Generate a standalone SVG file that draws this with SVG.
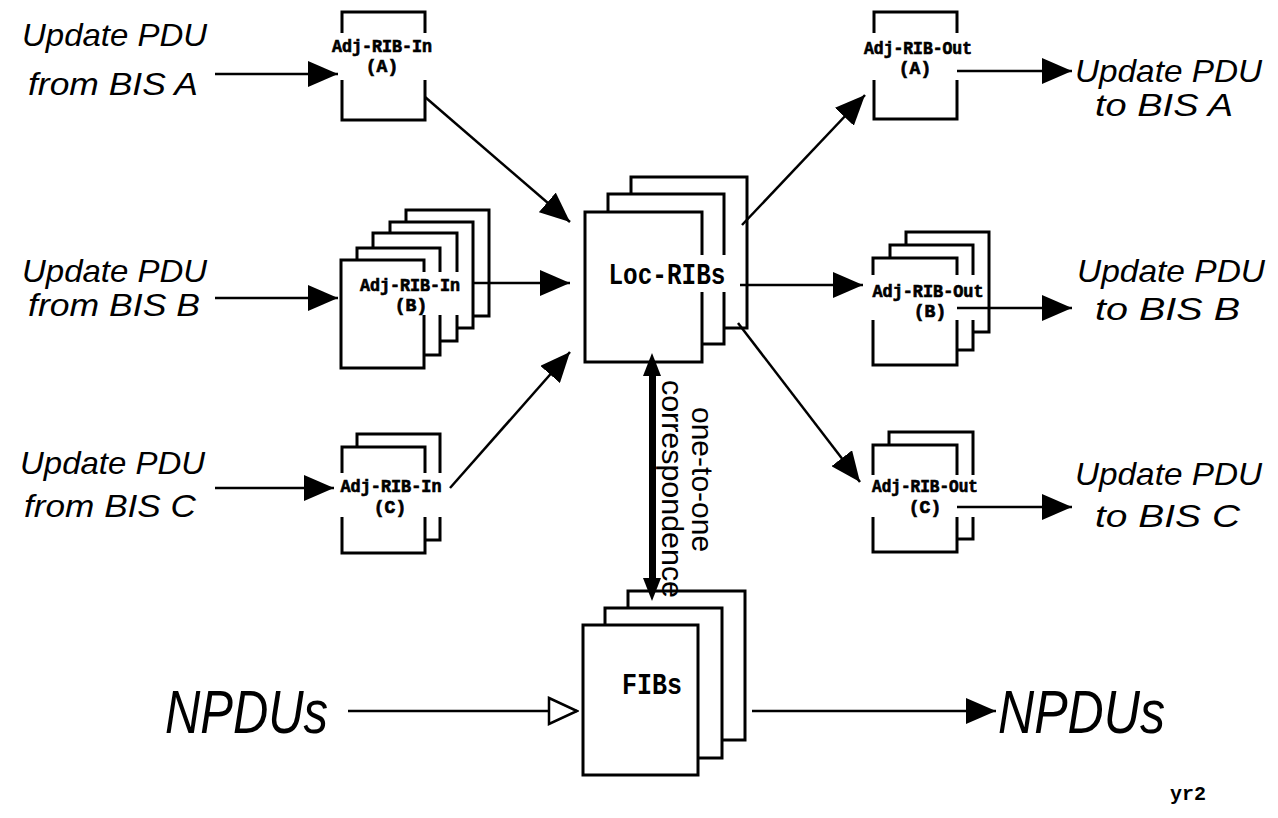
<svg xmlns="http://www.w3.org/2000/svg" width="1278" height="818" viewBox="0 0 1278 818">
<style>
.bx{fill:#fff;stroke:#000;stroke-width:3}
.wh{fill:#fff;stroke:none}
.cn{fill:none;stroke:#000;stroke-width:2.5}
.lbl{font-family:"Liberation Sans",Arial,sans-serif;font-style:italic;font-size:32px;fill:#000}
.big{font-family:"Liberation Sans",Arial,sans-serif;font-style:italic;font-size:62px;fill:#000}
.sm{font-family:"Liberation Mono","Courier New",monospace;font-weight:bold;font-size:18px;text-anchor:middle;fill:#000;stroke:#000;stroke-width:0.7}
.mid{font-family:"Liberation Mono","Courier New",monospace;font-weight:bold;font-size:30px;text-anchor:middle;fill:#000}
.rot{font-family:"Liberation Sans",Arial,sans-serif;font-size:30px;fill:#000}
</style>
<defs>
<marker id="ah" markerUnits="userSpaceOnUse" markerWidth="30" markerHeight="26" refX="30" refY="13" orient="auto"><path d="M0,0 L30,13 L0,26 z" fill="#000"/></marker>
<marker id="oh" markerUnits="userSpaceOnUse" markerWidth="32" markerHeight="30" refX="30" refY="15" orient="auto"><path d="M2,2 L30,15 L2,28 z" fill="#fff" stroke="#000" stroke-width="2.5"/></marker>
</defs>
<rect width="1278" height="818" fill="#fff"/>

<g id="in-a">
<rect class="bx" x="342" y="12" width="83" height="108"/>
<rect class="wh" x="333" y="33" width="100" height="47"/>
<text class="sm" x="382" y="52" textLength="100" lengthAdjust="spacingAndGlyphs">Adj-RIB-In</text>
<text class="sm" x="382" y="72">(A)</text>
</g>

<g id="in-b">
<rect class="bx" x="406" y="210" width="83" height="106"/>
<rect class="bx" x="390" y="222" width="83" height="106"/>
<rect class="bx" x="373" y="233" width="84" height="108"/>
<rect class="bx" x="357" y="248" width="83" height="107"/>
<rect class="bx" x="341" y="260" width="83" height="108"/>
<rect class="wh" x="358" y="272" width="105" height="43"/>
<text class="sm" x="410" y="291" textLength="100" lengthAdjust="spacingAndGlyphs">Adj-RIB-In</text>
<text class="sm" x="411" y="311">(B)</text>
</g>

<g id="in-c">
<rect class="bx" x="357" y="434" width="83" height="106"/>
<rect class="bx" x="342" y="447" width="83" height="106"/>
<rect class="wh" x="338" y="473" width="106" height="44"/>
<text class="sm" x="391" y="492" textLength="101" lengthAdjust="spacingAndGlyphs">Adj-RIB-In</text>
<text class="sm" x="390" y="513">(C)</text>
</g>

<g id="loc-ribs">
<rect class="bx" x="631" y="177" width="116" height="151"/>
<rect class="bx" x="608" y="194" width="116" height="150"/>
<rect class="bx" x="585" y="212" width="117" height="150"/>
<rect class="wh" x="606" y="255" width="122" height="37"/>
<text class="mid" x="667" y="284" textLength="117" lengthAdjust="spacingAndGlyphs">Loc-RIBs</text>
</g>

<g id="out-a">
<rect class="bx" x="874" y="12" width="83" height="107"/>
<rect class="wh" x="862" y="33" width="113" height="47"/>
<text class="sm" x="918" y="54" textLength="108" lengthAdjust="spacingAndGlyphs">Adj-RIB-Out</text>
<text class="sm" x="915" y="74">(A)</text>
</g>

<g id="out-b">
<rect class="bx" x="906" y="232" width="83" height="100"/>
<rect class="bx" x="890" y="245" width="83" height="105"/>
<rect class="bx" x="873" y="258" width="84" height="107"/>
<rect class="wh" x="870" y="275" width="116" height="45"/>
<text class="sm" x="928" y="297" textLength="111" lengthAdjust="spacingAndGlyphs">Adj-RIB-Out</text>
<text class="sm" x="930" y="317">(B)</text>
</g>

<g id="out-c">
<rect class="bx" x="889" y="432" width="84" height="107"/>
<rect class="bx" x="873" y="445" width="84" height="107"/>
<rect class="wh" x="870" y="475" width="110" height="42"/>
<text class="sm" x="925" y="492" textLength="106" lengthAdjust="spacingAndGlyphs">Adj-RIB-Out</text>
<text class="sm" x="925" y="513">(C)</text>
</g>

<g id="fibs">
<rect class="bx" x="628" y="591" width="117" height="149"/>
<rect class="bx" x="605" y="608" width="117" height="150"/>
<rect class="bx" x="583" y="625" width="115" height="150"/>
<text class="mid" x="652" y="694" textLength="60" lengthAdjust="spacingAndGlyphs">FIBs</text>
</g>

<g id="labels-left">
<text class="lbl" x="22" y="46" textLength="185" lengthAdjust="spacingAndGlyphs">Update PDU</text>
<text class="lbl" x="28" y="95" textLength="170" lengthAdjust="spacingAndGlyphs">from BIS A</text>
<text class="lbl" x="22" y="282" textLength="185" lengthAdjust="spacingAndGlyphs">Update PDU</text>
<text class="lbl" x="28" y="316" textLength="172" lengthAdjust="spacingAndGlyphs">from BIS B</text>
<text class="lbl" x="20" y="474" textLength="185" lengthAdjust="spacingAndGlyphs">Update PDU</text>
<text class="lbl" x="24" y="517" textLength="172" lengthAdjust="spacingAndGlyphs">from BIS C</text>
</g>

<g id="labels-right">
<text class="lbl" x="1075" y="82" textLength="187" lengthAdjust="spacingAndGlyphs">Update PDU</text>
<text class="lbl" x="1095" y="116" textLength="138" lengthAdjust="spacingAndGlyphs">to BIS A</text>
<text class="lbl" x="1077" y="282" textLength="188" lengthAdjust="spacingAndGlyphs">Update PDU</text>
<text class="lbl" x="1095" y="320" textLength="145" lengthAdjust="spacingAndGlyphs">to BIS B</text>
<text class="lbl" x="1075" y="485" textLength="187" lengthAdjust="spacingAndGlyphs">Update PDU</text>
<text class="lbl" x="1095" y="527" textLength="145" lengthAdjust="spacingAndGlyphs">to BIS C</text>
</g>

<g id="npdus">
<text class="big" x="165" y="733" textLength="163" lengthAdjust="spacingAndGlyphs">NPDUs</text>
<text class="big" x="998" y="733" textLength="167" lengthAdjust="spacingAndGlyphs">NPDUs</text>
</g>

<g id="connectors">
<path class="cn" d="M215,74 L338,74" marker-end="url(#ah)"/>
<path class="cn" d="M215,298 L338,298" marker-end="url(#ah)"/>
<path class="cn" d="M215,488 L334,488" marker-end="url(#ah)"/>
<path class="cn" d="M425,97 L570,222" marker-end="url(#ah)"/>
<path class="cn" d="M473,283 L570,283" marker-end="url(#ah)"/>
<path class="cn" d="M450,488 L570,352" marker-end="url(#ah)"/>
<path class="cn" d="M742,225 L865,95" marker-end="url(#ah)"/>
<path class="cn" d="M740,285 L863,285" marker-end="url(#ah)"/>
<path class="cn" d="M738,323 L860,482" marker-end="url(#ah)"/>
<path class="cn" d="M957,71 L1072,71" marker-end="url(#ah)"/>
<path class="cn" d="M957,308 L1072,308" marker-end="url(#ah)"/>
<path class="cn" d="M957,507 L1072,507" marker-end="url(#ah)"/>
<path class="cn" d="M348,711 L577,711" marker-end="url(#oh)"/>
<path class="cn" d="M752,711 L996,711" marker-end="url(#ah)"/>
<g id="one-to-one">
<rect x="649" y="372" width="7" height="210" fill="#000"/>
<path d="M652,353 L643,376 L661,376 z" fill="#000"/>
<path d="M652,601 L643,578 L661,578 z" fill="#000"/>
</g>
</g>

<g id="corr-label">
<text class="rot" transform="translate(692,407) rotate(90)">one-to-one</text>
<text class="rot" transform="translate(662,380) rotate(90)" textLength="218" lengthAdjust="spacingAndGlyphs">correspondence</text>
</g>

<text x="1170" y="800" font-family="Liberation Mono, monospace" font-weight="bold" font-size="20">yr2</text>
</svg>
